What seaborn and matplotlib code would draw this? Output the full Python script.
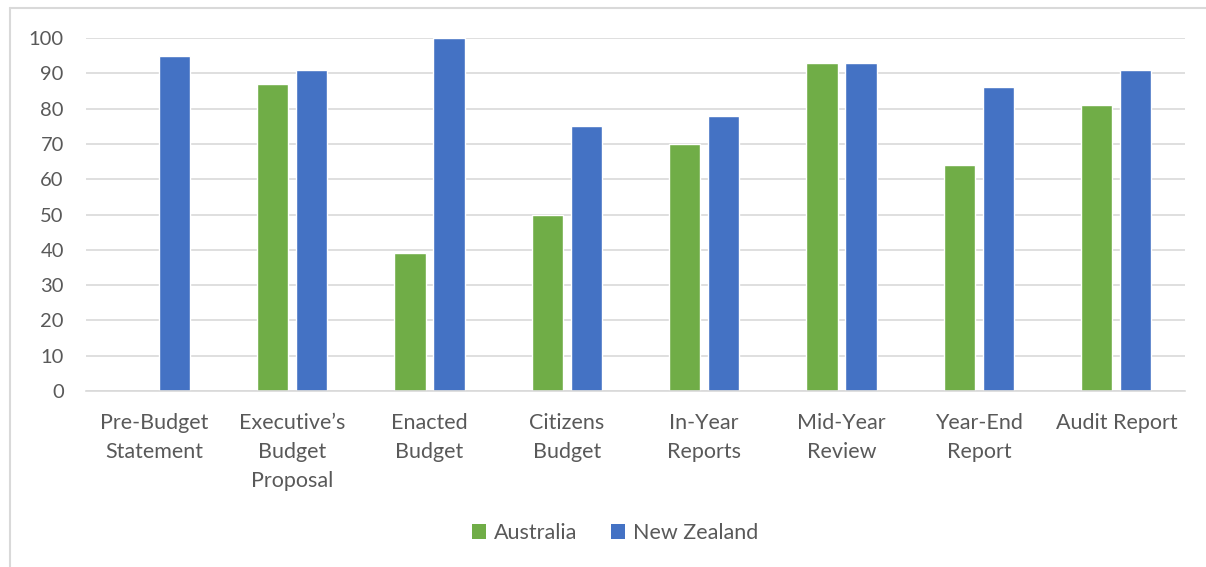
import matplotlib
matplotlib.use("Agg")
import matplotlib.pyplot as plt
import seaborn as sns
import pandas as pd
import numpy as np
from matplotlib.lines import Line2D
from matplotlib.patches import Patch

categories = [
    "Pre-Budget\nStatement",
    "Executive\u2019s\nBudget\nProposal",
    "Enacted\nBudget",
    "Citizens\nBudget",
    "In-Year\nReports",
    "Mid-Year\nReview",
    "Year-End\nReport",
    "Audit Report",
]
australia = [np.nan, 87, 39, 50, 70, 93, 64, 81]
new_zealand = [95, 91, 100, 75, 78, 93, 86, 91]
series = ["Australia", "New Zealand"]
colors = {"Australia": "#70AD47", "New Zealand": "#4472C4"}
yticks = [0, 10, 20, 30, 40, 50, 60, 70, 80, 90, 100]

df = pd.DataFrame({
    "category": categories * 2,
    "country": [series[0]] * len(categories) + [series[1]] * len(categories),
    "value": australia + new_zealand,
})

sns.set_theme(style="white")
plt.rcParams["font.family"] = ["Lato", "DejaVu Sans"]
text_color = "#595959"
grid_color = "#D9D9D9"

fig = plt.figure(figsize=(12.06, 5.67), dpi=100)
ax = fig.add_axes([86 / 1206, 1 - 391 / 567, (1185 - 86) / 1206, (391 - 38) / 567])

sns.barplot(data=df, x="category", y="value", hue="country", order=categories,
            hue_order=series, palette=colors, width=0.568, gap=0.2,
            saturation=1, ax=ax, legend=False, errorbar=None)

ax.set_ylim(0, 100)
ax.set_xlim(-0.5, len(categories) - 0.5)
ax.set_yticks(yticks)
ax.set_xticks(range(len(categories)))
ax.set_xticklabels(categories, linespacing=1.56, ha="center", fontsize=15.5,
                   color=text_color)
ax.yaxis.grid(True, color=grid_color, linewidth=1.2)
ax.set_axisbelow(True)
for side in ["top", "right", "left"]:
    ax.spines[side].set_visible(False)
ax.spines["bottom"].set_color(grid_color)
ax.spines["bottom"].set_linewidth(1.2)
ax.set_xlabel("")
ax.set_ylabel("")
ax.tick_params(axis="y", length=0, pad=16, labelsize=14.5, labelcolor=text_color)
ax.tick_params(axis="x", length=0, pad=16)

handles = [Patch(facecolor=colors[s], edgecolor="none") for s in series]
fig.legend(handles, series, loc="center", bbox_to_anchor=(615 / 1206, 1 - 533 / 567),
           ncol=2, frameon=False, fontsize=15.5, labelcolor=text_color,
           handlelength=0.65, handleheight=0.65, handletextpad=0.35, columnspacing=1.6)

# chart frame
fig.add_artist(Line2D([10 / 1206, 10 / 1206], [0, 1 - 8 / 567], color=grid_color,
                      linewidth=1.5, transform=fig.transFigure))
fig.add_artist(Line2D([10 / 1206, 1], [1 - 8 / 567, 1 - 8 / 567], color=grid_color,
                      linewidth=1.5, transform=fig.transFigure))

fig.savefig("out.png", dpi=100, facecolor="white")
